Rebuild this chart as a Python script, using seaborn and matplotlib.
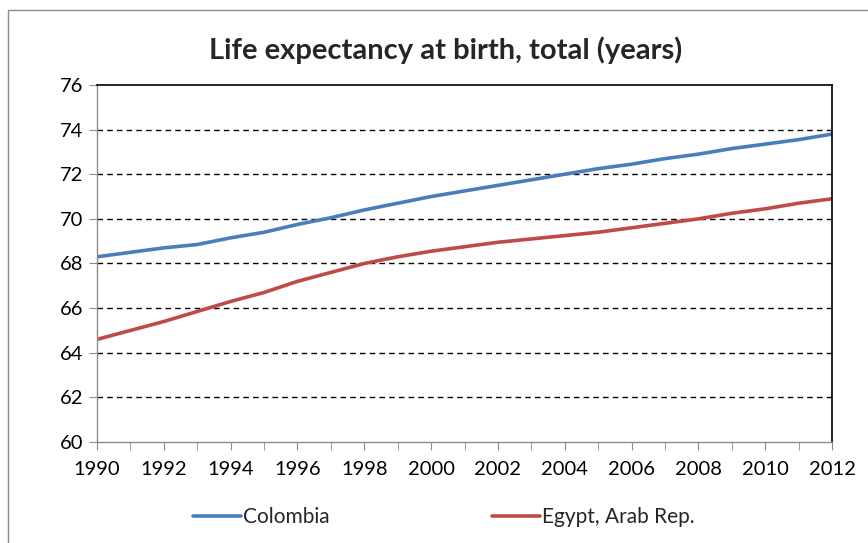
import pandas as pd
import matplotlib.pyplot as plt
import seaborn as sns
from matplotlib.lines import Line2D

# --- data ---
years = list(range(1990, 2013))
colombia = [68.3, 68.5, 68.7, 68.85, 69.15, 69.4, 69.75, 70.05, 70.4, 70.7, 71.0, 71.25,
            71.5, 71.75, 72.0, 72.25, 72.45, 72.7, 72.9, 73.15, 73.35, 73.55, 73.8]
egypt = [64.6, 65.0, 65.4, 65.85, 66.3, 66.7, 67.2, 67.6, 68.0, 68.3, 68.55, 68.75,
         68.95, 69.1, 69.25, 69.4, 69.6, 69.8, 70.0, 70.25, 70.45, 70.7, 70.9]
countries = ['Colombia', 'Egypt, Arab Rep.']
colors = ['#4A7EBB', '#BE4B48']

df = pd.DataFrame({
    'Year': years * 2,
    'Value': colombia + egypt,
    'Country': [countries[0]] * len(years) + [countries[1]] * len(years),
})

sns.set_style('white')
plt.rcParams['font.family'] = ['Lato', 'DejaVu Sans']

fig = plt.figure(figsize=(8.68, 5.43), dpi=100)
ax = fig.add_axes([0.1118, 0.186, 0.8467, 0.6575])

sns.lineplot(data=df, x='Year', y='Value', hue='Country', palette=colors,
             linewidth=2.6, ax=ax, legend=False)

ax.set_xlim(1990, 2012)
ax.set_ylim(60, 76)
ax.set_xticks(range(1990, 2013, 2))
ax.set_xticks(years, minor=True)
ax.set_yticks(range(60, 77, 2))
ax.set_xlabel('')
ax.set_ylabel('')

# dashed gridlines
for v in range(62, 76, 2):
    ax.axhline(v, color='black', linestyle=(0, (4, 3)), linewidth=1, zorder=0)

for side in ['top', 'right']:
    ax.spines[side].set_color('black')
    ax.spines[side].set_linewidth(1.2)
for side in ['left', 'bottom']:
    ax.spines[side].set_color('#8c8c8c')
    ax.spines[side].set_linewidth(1)

ax.tick_params(axis='both', which='both', direction='out', color='#8c8c8c',
               labelsize=14.5, labelcolor='black')
ax.tick_params(axis='x', which='both', length=6, bottom=True, pad=8)
ax.tick_params(axis='y', length=6, left=True, pad=4)

fig.suptitle('Life expectancy at birth, total (years)', fontsize=21,
             fontweight='bold', y=0.908, x=0.513, va='center')

handles = [Line2D([0], [0], color=c, linewidth=2.6) for c in colors]
fig.legend(handles, countries, loc='center', bbox_to_anchor=(0.5115, 0.048), ncol=2,
           frameon=False, fontsize=15, handlelength=2.3, handletextpad=0.1,
           columnspacing=7.8)

# outer chart border
fig.add_artist(Line2D([8 / 868, 8 / 868], [0, 1 - 10 / 543], color='#8c8c8c',
                      linewidth=1, transform=fig.transFigure))
fig.add_artist(Line2D([8 / 868, 1], [1 - 10 / 543, 1 - 10 / 543], color='#8c8c8c',
                      linewidth=1, transform=fig.transFigure))

fig.savefig('out.png', dpi=100)
